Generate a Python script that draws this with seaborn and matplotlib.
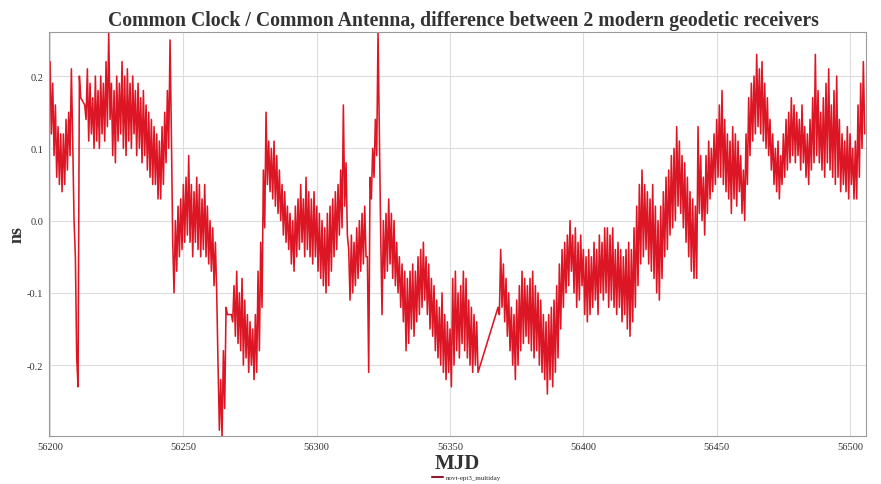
import numpy as np
import pandas as pd
import matplotlib
matplotlib.use("Agg")
import matplotlib.pyplot as plt
import seaborn as sns

title = "Common Clock / Common Antenna, difference between 2 modern geodetic receivers"
series_name = "novt-ept3_multiday"
mjd0 = 56200
x_ticks = [56200, 56250, 56300, 56350, 56400, 56450, 56500]
y_ticks = [-0.2, -0.1, 0.0, 0.1, 0.2]

# day offsets from MJD 56200 (gaps where receivers had no data)
days = (list(range(0, 12)) + list(range(13, 67)) + list(range(68, 161))
        + list(range(168, 306)))

# daily upper / lower excursions of the difference (ns)
hi = [
    .22, .19, .16, .13, .12, .12, .14, .15, .21, .00, -.19, .20,            # 0-11
    .16, .21, .19, .17, .20, .18, .20, .19, .22, .26, .19, .18, .20, .19,   # 13-26
    .22, .20, .21, .19, .20, .18, .19, .17, .18, .16, .15, .14, .13, .12,   # 27-40
    .11, .13, .15, .18, .25, -.03, .00, .02, .03, .05, .06, .09, .05, .04,  # 41-54
    .06, .05, .03, .05, .02, .00, -.01, -.03, -.20, -.22, -.18, -.12,       # 55-66
    -.13, -.09, -.07, -.10, -.08, -.11, -.13, -.14, -.15, -.13, -.07, -.03, # 68-79
    .07, .15, .11, .10, .11, .09, .07, .05, .04, .02, .01, .00, .02, .03,   # 80-93
    .05, .03, .06, .04, .03, .04, .02, .01, .00, -.01, .01, .02, .03, .04,  # 94-107
    .05, .07, .16, .08, -.04, -.02, -.03, -.01, .00, .01, .02, -.05,        # 108-119
    .06, .10, .14, .26, -.02, .00, .01, .03, .01, .00, -.03, -.05, -.06,    # 120-132
    -.07, -.08, -.07, -.06, -.07, -.05, -.04, -.03, -.05, -.06, -.08, -.09, # 133-144
    -.11, -.12, -.10, -.13, -.14, -.15, -.08, -.07, -.10, -.09, -.07, -.08, # 145-156
    -.11, -.12, -.13, -.14,                                                 # 157-160
    -.12, -.04, -.06, -.08, -.10, -.12, -.13, -.11, -.09, -.07, -.08,       # 168-178
    -.09, -.08, -.07, -.09, -.10, -.11, -.13, -.14, -.13, -.12, -.11, -.09, # 179-190
    -.06, -.04, -.03, -.02, .00, -.02, -.01, -.03, -.02, -.04,              # 191-200
    -.05, -.04, -.05, -.03, -.04, -.02, -.03, -.01, -.01, -.02, -.01, -.04, # 201-212
    -.03, -.04, -.05, -.04, -.03, -.04, -.01, .02, .05, .07, .05, .04,      # 213-224
    .03, .05, .02, .00, .02, .04, .06, .07, .09, .10, .13, .11, .09, .08,   # 225-238
    .06, .04, .03, .02, .13, .09, .06, .09, .11, .10, .12, .14,             # 239-250
    .16, .18, .14, .12, .11, .13, .12, .11, .09, .07,                       # 251-260
    .12, .17, .19, .20, .23, .21, .22, .19, .17, .14, .12, .10, .11, .09,   # 261-274
    .12, .14, .15, .17, .16, .15, .14, .16, .13, .12, .14, .17, .23, .18,   # 275-288
    .15, .17, .19, .21, .16, .18, .20, .14, .12, .11, .13, .12, .10, .11,   # 289-302
    .16, .19, .22,                                                          # 303-305
]
lo = [
    .12, .09, .06, .05, .04, .05, .07, .09, .11, -.05, -.23, .17,
    .14, .11, .12, .10, .11, .10, .12, .11, .13, .14, .09, .08, .11, .12,
    .10, .09, .11, .10, .12, .09, .10, .08, .09, .07, .06, .05, .05, .03,
    .03, .05, .08, .10, .12, -.10, -.07, -.05, -.04, -.03, -.02, -.03, -.05, -.03,
    -.04, -.05, -.04, -.05, -.06, -.07, -.09, -.10, -.29, -.30, -.26, -.13,
    -.14, -.16, -.17, -.18, -.20, -.19, -.21, -.20, -.22, -.21, -.18, -.12,
    -.01, .05, .04, .03, .02, .01, .00, -.02, -.03, -.04, -.06, -.07, -.05, -.04,
    -.03, -.05, -.04, -.05, -.06, -.05, -.07, -.08, -.09, -.10, -.09, -.07, -.05, -.04,
    -.02, -.01, .02, -.02, -.11, -.10, -.09, -.08, -.07, -.06, -.05, -.21,
    .03, .06, .09, .12, -.13, -.08, -.07, -.06, -.08, -.09, -.10, -.12, -.14,
    -.18, -.17, -.15, -.16, -.14, -.13, -.12, -.11, -.13, -.15, -.16, -.18,
    -.19, -.20, -.21, -.22, -.21, -.23, -.20, -.18, -.19, -.17, -.18, -.19,
    -.20, -.21, -.20, -.21,
    -.13, -.12, -.14, -.16, -.18, -.20, -.22, -.20, -.18, -.17, -.16,
    -.17, -.18, -.19, -.18, -.20, -.21, -.22, -.24, -.22, -.23, -.21, -.19,
    -.15, -.12, -.10, -.09, -.07, -.10, -.12, -.11, -.09, -.13,
    -.14, -.13, -.12, -.11, -.13, -.10, -.11, -.10, -.12, -.11, -.12, -.13,
    -.12, -.14, -.13, -.15, -.16, -.14, -.12, -.09, -.06, -.05, -.04, -.06,
    -.07, -.08, -.10, -.11, -.08, -.05, -.04, -.02, -.01, .00, .02, .01, -.01, -.03,
    -.05, -.07, -.08, -.08, .01, .00, -.02, .01, .03, .04, .05, .06,
    .06, .05, .04, .03, .01, .03, .02, .04, .01, .00,
    .05, .09, .11, .12, .13, .12, .11, .10, .09, .07, .05, .04, .03, .05,
    .06, .07, .08, .09, .08, .09, .07, .08, .06, .05, .07, .08, .09, .08,
    .07, .06, .08, .07, .06, .05, .06, .04, .05, .04, .03, .05, .03, .03,
    .06, .10, .12,
]

mjd, ns = [], []
for d, h, l in zip(days, hi, lo):
    mjd += [mjd0 + d, mjd0 + d + 0.5]
    ns += [h, l]
df = pd.DataFrame({"MJD": mjd, "ns": ns, "series": series_name})

sns.set_style("white")
plt.rcParams["font.family"] = ["Liberation Serif", "DejaVu Serif"]

fig = plt.figure(figsize=(8.81, 4.85), dpi=100)
ax = fig.add_axes([0.0556, 0.099, 0.9274, 0.833])
sns.lineplot(data=df, x="MJD", y="ns", hue="series", palette=["#dc1624"],
             estimator=None, sort=False, linewidth=1.15, ax=ax, legend=False)

ax.set_xlim(56199.6, 56506)
ax.set_ylim(-0.298, 0.261)
ax.set_xticks(x_ticks)
ax.set_xticklabels([str(t) for t in x_ticks])
ax.set_yticks(y_ticks)
ax.set_yticklabels([f"{t:.1f}" for t in y_ticks])
ax.tick_params(axis="both", length=0, labelsize=7.5, pad=4, colors="#333333")
ax.grid(True, color="#dcdcdc", linewidth=0.8)
for s in ax.spines.values():
    s.set_color("#9a9a9a")
    s.set_linewidth(0.8)

ax.set_title(title, fontsize=14.2, fontweight="bold", color="#333333", pad=5, x=0.507)
ax.set_xlabel("MJD", fontsize=15, fontweight="bold", color="#333333", labelpad=2)
ax.set_ylabel("ns", fontsize=13, fontweight="bold", color="#333333", labelpad=1)

handle = plt.Line2D([], [], color="#8b1a2a", linewidth=1.5)
fig.legend([handle], [series_name], loc="lower center", bbox_to_anchor=(0.53, -0.005),
           frameon=False, fontsize=5, handlelength=1.6, handletextpad=0.4)

fig.savefig("out.png", dpi=100, facecolor="white")
